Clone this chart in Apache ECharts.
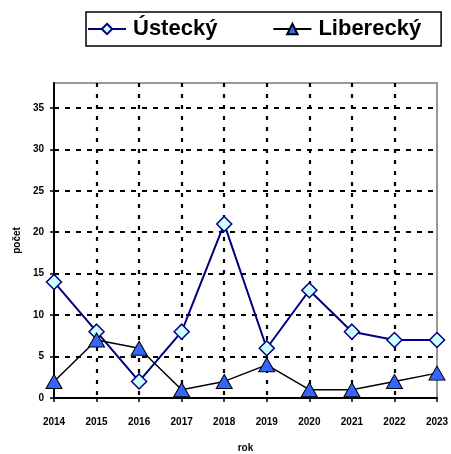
<!DOCTYPE html>
<html><head><meta charset="utf-8">
<script src="https://cdn.jsdelivr.net/npm/echarts@6/dist/echarts.min.js"></script>
<style>html,body{margin:0;padding:0;background:#fff}#c{width:451px;height:454px}</style>
</head><body><div id="c"></div>
<script>
const years = ['2014','2015','2016','2017','2018','2019','2020','2021','2022','2023'];
const ustecky = [14, 8, 2, 8, 21, 6, 13, 8, 7, 7];
const liberecky = [2, 7, 6, 1, 2, 4, 1, 1, 2, 3];
const seriesNames = ['Ústecký', 'Liberecký'];
const yName = 'počet';
const xName = 'rok';

const F = '"Liberation Sans", Arial, sans-serif';
const chart = echarts.init(document.getElementById('c'));
chart.setOption({
  animation: false,
  backgroundColor: '#fff',
  grid: { left: 54, right: 14, top: 83, bottom: 56, outerBoundsMode: 'none', containLabel: false,
          show: true, borderColor: '#999', borderWidth: 2, backgroundColor: 'transparent' },
  legend: {
    left: 86, top: 12,
    padding: [6, 20, 6, 1],
    itemGap: 55,
    itemWidth: 38, itemHeight: 13,
    borderColor: '#000', borderWidth: 1.5,
    textStyle: { fontFamily: F, fontWeight: 'bold', fontSize: 22, color: '#000', padding: [0, 0, 0, 2] },
    data: seriesNames
  },
  xAxis: {
    type: 'category', data: years, boundaryGap: false,
    name: xName, nameLocation: 'middle', nameGap: 45,
    nameTextStyle: { fontFamily: F, fontWeight: 'bold', fontSize: 10, color: '#000' },
    axisLine: { lineStyle: { color: '#000', width: 2 } },
    axisTick: { show: true, length: 4, lineStyle: { color: '#000', width: 1.5 } },
    axisLabel: { margin: 19, fontFamily: F, fontWeight: 'bold', fontSize: 10, color: '#000' },
    splitLine: { show: true, showMinLine: false, showMaxLine: false, lineStyle: { color: '#000', width: 2.2, type: [4, 7] } }
  },
  yAxis: {
    type: 'value', min: 0, max: 38, interval: 5,
    name: yName, nameLocation: 'middle', nameGap: 31, nameRotate: 90,
    nameTextStyle: { fontFamily: F, fontWeight: 'bold', fontSize: 10, color: '#000' },
    axisLine: { show: true, lineStyle: { color: '#000', width: 2 } },
    axisTick: { show: true, length: 4, lineStyle: { color: '#000', width: 1.5 } },
    axisLabel: { margin: 10, showMaxLabel: false, fontFamily: F, fontWeight: 'bold', fontSize: 10, color: '#000' },
    splitLine: { show: true, showMinLine: false, showMaxLine: false, lineStyle: { color: '#000', width: 2, type: [5, 6] } }
  },
  series: [{
    name: seriesNames[0], type: 'line', data: ustecky,
    symbol: 'diamond', symbolSize: [15, 15],
    lineStyle: { color: '#000080', width: 2 },
    itemStyle: { color: '#ccffff', borderColor: '#000080', borderWidth: 1.5 },
    z: 3
  }, {
    name: seriesNames[1], type: 'line', data: liberecky,
    symbol: 'triangle', symbolSize: [16, 14],
    lineStyle: { color: '#000', width: 1.5 },
    itemStyle: { color: '#3366ff', borderColor: '#000', borderWidth: 1 },
    z: 4
  }]
});
</script></body></html>
